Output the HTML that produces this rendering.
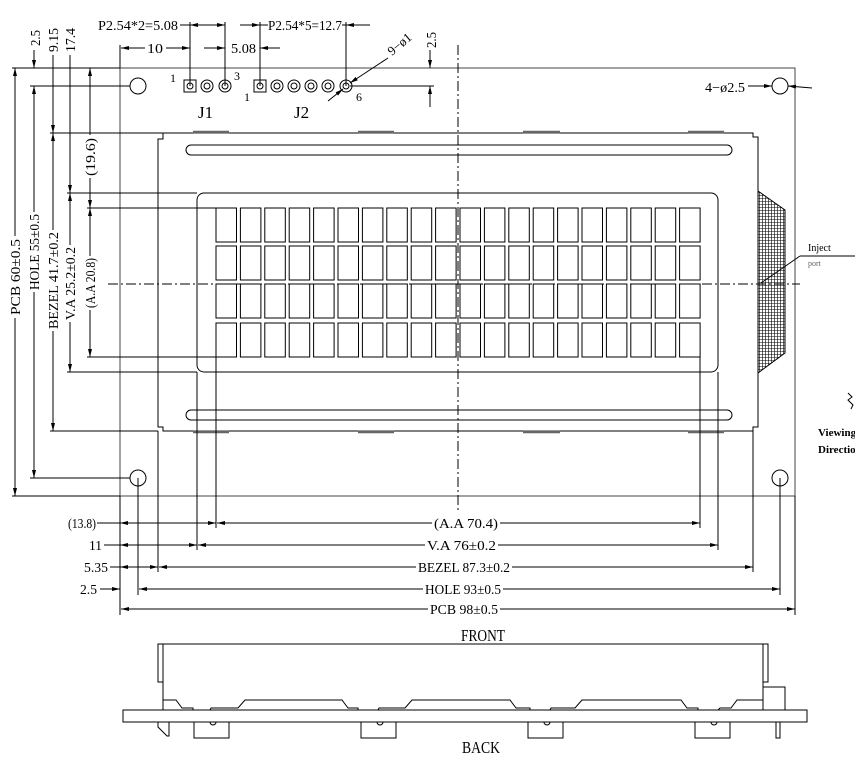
<!DOCTYPE html>
<html><head><meta charset="utf-8"><style>
html,body{margin:0;padding:0;background:#fff;}
svg{display:block;}
text{font-family:"Liberation Serif",serif;fill:#000;}
</style></head><body>
<svg width="855" height="773" viewBox="0 0 855 773" xmlns="http://www.w3.org/2000/svg">
<defs>
<marker id="a" markerWidth="8" markerHeight="4" refX="8" refY="2" orient="auto" markerUnits="userSpaceOnUse"><path d="M0,0 L8,2 L0,4 Z" fill="#000"/></marker>
<marker id="s" markerWidth="8" markerHeight="4" refX="0" refY="2" orient="auto" markerUnits="userSpaceOnUse"><path d="M8,0 L0,2 L8,4 Z" fill="#000"/></marker>
<pattern id="h" width="3" height="3" patternUnits="userSpaceOnUse"><path d="M0,0.5 H3 M0.5,0 V3" stroke="#000" stroke-width="0.6"/></pattern>
</defs>
<g fill="none" stroke="#000" stroke-width="1">
<rect x="120" y="68" width="675" height="428" stroke="#444"/>
<circle cx="138" cy="86" r="8"/><circle cx="780" cy="86" r="8"/>
<circle cx="138" cy="478" r="8"/><circle cx="780" cy="478" r="8"/>
<path d="M163,133 L753,133 L753,137 L758,137 L758,427 L753,427 L753,431 L163,431 L163,427 L158,427 L158,139 L163,139 Z"/>
<g stroke="#666" stroke-width="2.5">
<line x1="193" y1="132" x2="229" y2="132"/><line x1="358" y1="132" x2="394" y2="132"/><line x1="523" y1="132" x2="560" y2="132"/><line x1="688" y1="132" x2="724" y2="132"/>
<line x1="193" y1="432" x2="229" y2="432"/><line x1="358" y1="432" x2="394" y2="432"/><line x1="523" y1="432" x2="560" y2="432"/><line x1="688" y1="432" x2="724" y2="432"/>
</g>
<rect x="186" y="145" width="546" height="10" rx="5"/>
<rect x="186" y="410" width="546" height="10" rx="5"/>
<rect x="197" y="193" width="521" height="179" rx="7"/>
<polygon points="758,191 785,210 785,353 758,373" fill="url(#h)"/>
<line x1="458" y1="45" x2="458" y2="512" stroke-dasharray="10,3,2,3"/>
<line x1="108" y1="284" x2="800" y2="284" stroke-dasharray="10,3,2,3"/>
</g>
<g fill="#fff" stroke="#000" stroke-width="1" id="cells"></g>
<g fill="none" stroke="#000" stroke-width="1">
<line x1="12" y1="68" x2="120" y2="68"/>
<line x1="30" y1="86" x2="130" y2="86"/>
<line x1="50" y1="133" x2="163" y2="133"/>
<line x1="67" y1="193" x2="197" y2="193"/>
<line x1="87" y1="208" x2="216" y2="208"/>
<line x1="87" y1="357" x2="216" y2="357"/>
<line x1="67" y1="372" x2="197" y2="372"/>
<line x1="50" y1="431" x2="158" y2="431"/>
<line x1="30" y1="478" x2="130" y2="478"/>
<line x1="12" y1="496" x2="120" y2="496"/>
<line x1="15" y1="236" x2="15" y2="68" marker-end="url(#a)"/><line x1="15" y1="318" x2="15" y2="496" marker-end="url(#a)"/>
<line x1="34" y1="212" x2="34" y2="86" marker-end="url(#a)"/><line x1="34" y1="292" x2="34" y2="478" marker-end="url(#a)"/>
<line x1="53" y1="230" x2="53" y2="133" marker-end="url(#a)"/><line x1="53" y1="331" x2="53" y2="431" marker-end="url(#a)"/>
<line x1="70" y1="245" x2="70" y2="193" marker-end="url(#a)"/><line x1="70" y1="322" x2="70" y2="372" marker-end="url(#a)"/>
<line x1="90" y1="256" x2="90" y2="208" marker-end="url(#a)"/><line x1="90" y1="310" x2="90" y2="357" marker-end="url(#a)"/>
<line x1="34" y1="50" x2="34" y2="68" marker-end="url(#a)"/>
<line x1="53" y1="55" x2="53" y2="133" marker-end="url(#a)"/>
<line x1="70" y1="55" x2="70" y2="193" marker-end="url(#a)"/>
<line x1="90" y1="135" x2="90" y2="68" marker-end="url(#a)"/><line x1="90" y1="178" x2="90" y2="208" marker-end="url(#a)"/>
<line x1="120" y1="496" x2="120" y2="615"/>
<line x1="138" y1="478" x2="138" y2="595"/>
<line x1="158" y1="431" x2="158" y2="572"/>
<line x1="197" y1="372" x2="197" y2="550"/>
<line x1="216" y1="357" x2="216" y2="528"/>
<line x1="700" y1="357" x2="700" y2="528"/>
<line x1="718" y1="372" x2="718" y2="550"/>
<line x1="753" y1="431" x2="753" y2="572"/>
<line x1="780" y1="478" x2="780" y2="595"/>
<line x1="795" y1="496" x2="795" y2="615"/>
<line x1="97" y1="523" x2="120" y2="523"/><line x1="140" y1="523" x2="120" y2="523" marker-end="url(#a)"/><line x1="140" y1="523" x2="216" y2="523" marker-end="url(#a)"/>
<line x1="217" y1="523" x2="432" y2="523" marker-start="url(#s)"/><line x1="500" y1="523" x2="700" y2="523" marker-end="url(#a)"/>
<line x1="104" y1="545" x2="120" y2="545"/><line x1="150" y1="545" x2="120" y2="545" marker-end="url(#a)"/><line x1="150" y1="545" x2="197" y2="545" marker-end="url(#a)"/>
<line x1="198" y1="545" x2="425" y2="545" marker-start="url(#s)"/><line x1="498" y1="545" x2="718" y2="545" marker-end="url(#a)"/>
<line x1="110" y1="567" x2="120" y2="567"/><line x1="140" y1="567" x2="120" y2="567" marker-end="url(#a)"/><line x1="140" y1="567" x2="158" y2="567" marker-end="url(#a)"/>
<line x1="159" y1="567" x2="416" y2="567" marker-start="url(#s)"/><line x1="512" y1="567" x2="753" y2="567" marker-end="url(#a)"/>
<line x1="100" y1="589" x2="120" y2="589" marker-end="url(#a)"/>
<line x1="139" y1="589" x2="160" y2="589" marker-start="url(#s)"/><line x1="160" y1="589" x2="423" y2="589"/><line x1="503" y1="589" x2="780" y2="589" marker-end="url(#a)"/>
<line x1="121" y1="609" x2="428" y2="609" marker-start="url(#s)"/><line x1="500" y1="609" x2="795" y2="609" marker-end="url(#a)"/>
<line x1="120" y1="45" x2="120" y2="68"/>
<line x1="190" y1="22" x2="190" y2="86"/><line x1="225" y1="22" x2="225" y2="86"/>
<line x1="260" y1="22" x2="260" y2="86"/><line x1="346" y1="22" x2="346" y2="86"/>
<line x1="180" y1="25" x2="190" y2="25"/><line x1="207" y1="25" x2="190" y2="25" marker-end="url(#a)"/><line x1="207" y1="25" x2="225" y2="25" marker-end="url(#a)"/>
<line x1="240" y1="25" x2="260" y2="25" marker-end="url(#a)"/><line x1="260" y1="25" x2="268" y2="25"/>
<line x1="342" y1="25" x2="346" y2="25"/><line x1="370" y1="25" x2="346" y2="25" marker-end="url(#a)"/>
<line x1="145" y1="48" x2="121" y2="48" marker-end="url(#a)"/><line x1="166" y1="48" x2="190" y2="48" marker-end="url(#a)"/>
<line x1="204" y1="48" x2="225" y2="48" marker-end="url(#a)"/><line x1="280" y1="48" x2="260" y2="48" marker-end="url(#a)"/>
<line x1="350" y1="86" x2="434" y2="86"/>
<line x1="430" y1="50" x2="430" y2="68" marker-end="url(#a)"/><line x1="430" y1="107" x2="430" y2="86" marker-end="url(#a)"/>
<line x1="328" y1="101" x2="343" y2="89" marker-end="url(#a)"/><line x1="388" y1="58" x2="350" y2="83" marker-end="url(#a)"/>
<rect x="184" y="80" width="12" height="12"/><circle cx="190" cy="86" r="3"/>
<circle cx="207" cy="86" r="6"/><circle cx="207" cy="86" r="3"/>
<circle cx="225" cy="86" r="6"/><circle cx="225" cy="86" r="3"/>
<rect x="254" y="80" width="12" height="12"/><circle cx="260" cy="86" r="3"/>
<circle cx="277" cy="86" r="6"/><circle cx="277" cy="86" r="3"/>
<circle cx="294" cy="86" r="6"/><circle cx="294" cy="86" r="3"/>
<circle cx="311" cy="86" r="6"/><circle cx="311" cy="86" r="3"/>
<circle cx="328" cy="86" r="6"/><circle cx="328" cy="86" r="3"/>
<circle cx="346" cy="86" r="6"/><circle cx="346" cy="86" r="3"/>
<line x1="748" y1="86" x2="772" y2="86" marker-end="url(#a)"/>
<line x1="812" y1="88" x2="788" y2="86" marker-end="url(#a)"/>
<line x1="800" y1="256" x2="855" y2="256"/>
<line x1="800" y1="256" x2="761" y2="283"/>
<path d="M848,393 l4,4 l-4,3 l5,5 l-2,4"/>
<rect x="123" y="710" width="684" height="12"/>
<line x1="158" y1="644" x2="767" y2="644"/>
<rect x="158" y="644" width="5" height="38"/>
<rect x="763" y="644" width="5" height="38"/>
<line x1="163" y1="644" x2="163" y2="710"/>
<line x1="763" y1="682" x2="763" y2="700"/>
<path d="M163,700 L176,700 L182,708 L193,708 L193,710 M210,710 L211,708 L238,708 L245,700 L342,700 L348,708 L358,708 L358,710 M378,710 L379,708 L405,708 L412,700 L510,700 L516,708 L530,708 L530,710 M550,710 L551,708 L575,708 L582,700 L681,700 L687,708 L698,708 L698,710 M718,710 L720,708 L731,708 L737,700 L763,700"/>
<rect x="763" y="687" width="22" height="23"/>
<rect x="776" y="722" width="4" height="16"/>
<path d="M158,722 L158,727 L167,736 L169,736 L169,722"/>
<path d="M194,722 L194,738 L229,738 L229,722 M361,722 L361,738 L396,738 L396,722 M528,722 L528,738 L563,738 L563,722 M695,722 L695,738 L730,738 L730,722"/>
<path d="M210,722 a3,3 0 0 0 6,0 M377,722 a3,3 0 0 0 6,0 M544,722 a3,3 0 0 0 6,0 M711,722 a3,3 0 0 0 6,0"/>
</g>
<g font-size="14">
<text x="98" y="30" textLength="80" lengthAdjust="spacingAndGlyphs">P2.54*2=5.08</text>
<text x="268" y="30" textLength="74" lengthAdjust="spacingAndGlyphs">P2.54*5=12.7</text>
<text x="147" y="53" textLength="16" lengthAdjust="spacingAndGlyphs">10</text>
<text x="231" y="53" textLength="25" lengthAdjust="spacingAndGlyphs">5.08</text>
<text x="170" y="82" font-size="12">1</text>
<text x="234" y="80" font-size="12">3</text>
<text x="244" y="101" font-size="12">1</text>
<text x="356" y="101" font-size="12">6</text>
<text x="198" y="118" font-size="17">J1</text>
<text x="294" y="118" font-size="17">J2</text>
<text transform="translate(392,56) rotate(-40)" font-size="13">9−ø1</text>
<text transform="translate(436,48) rotate(-90)" textLength="16" lengthAdjust="spacingAndGlyphs">2.5</text>
<text transform="translate(40,46) rotate(-90)" textLength="16" lengthAdjust="spacingAndGlyphs">2.5</text>
<text transform="translate(58,52) rotate(-90)" textLength="24" lengthAdjust="spacingAndGlyphs">9.15</text>
<text transform="translate(75,52) rotate(-90)" textLength="24" lengthAdjust="spacingAndGlyphs">17.4</text>
<text transform="translate(95,176) rotate(-90)" textLength="38" lengthAdjust="spacingAndGlyphs">(19.6)</text>
<text transform="translate(20,315) rotate(-90)" textLength="76" lengthAdjust="spacingAndGlyphs">PCB 60±0.5</text>
<text transform="translate(39,290) rotate(-90)" textLength="76" lengthAdjust="spacingAndGlyphs">HOLE 55±0.5</text>
<text transform="translate(58,329) rotate(-90)" textLength="97" lengthAdjust="spacingAndGlyphs">BEZEL 41.7±0.2</text>
<text transform="translate(75,320) rotate(-90)" textLength="73" lengthAdjust="spacingAndGlyphs">V.A 25.2±0.2</text>
<text transform="translate(95,308) rotate(-90)" textLength="50" lengthAdjust="spacingAndGlyphs">(A.A 20.8)</text>
<text x="68" y="528" textLength="28" lengthAdjust="spacingAndGlyphs">(13.8)</text>
<text x="89" y="550" textLength="13" lengthAdjust="spacingAndGlyphs">11</text>
<text x="84" y="572" textLength="24" lengthAdjust="spacingAndGlyphs">5.35</text>
<text x="80" y="594" textLength="17" lengthAdjust="spacingAndGlyphs">2.5</text>
<text x="434" y="528" textLength="64" lengthAdjust="spacingAndGlyphs">(A.A 70.4)</text>
<text x="427" y="550" textLength="69" lengthAdjust="spacingAndGlyphs">V.A 76±0.2</text>
<text x="418" y="572" textLength="92" lengthAdjust="spacingAndGlyphs">BEZEL 87.3±0.2</text>
<text x="425" y="594" textLength="76" lengthAdjust="spacingAndGlyphs">HOLE 93±0.5</text>
<text x="430" y="614" textLength="68" lengthAdjust="spacingAndGlyphs">PCB 98±0.5</text>
<text x="705" y="92" textLength="40" lengthAdjust="spacingAndGlyphs">4−ø2.5</text>
<text x="461" y="641" font-size="17" textLength="44" lengthAdjust="spacingAndGlyphs">FRONT</text>
<text x="462" y="753" font-size="17" textLength="38" lengthAdjust="spacingAndGlyphs">BACK</text>
</g>
<text x="808" y="251" font-family="Liberation Mono" font-size="10">Inject</text>
<text x="808" y="266" font-family="Liberation Mono" font-size="8" style="fill:#666">port</text>
<text x="818" y="436" font-family="Liberation Mono" font-size="11" font-weight="bold">Viewing</text>
<text x="818" y="453" font-family="Liberation Mono" font-size="11" font-weight="bold">Direction</text>
</svg>
<script>
var g=document.getElementById('cells'),ns='http://www.w3.org/2000/svg',rows=[208,246,284,323];
for(var r=0;r<4;r++)for(var c=0;c<20;c++){var e=document.createElementNS(ns,'rect');e.setAttribute('x',(216+c*24.4).toFixed(1));e.setAttribute('y',rows[r]);e.setAttribute('width',20.5);e.setAttribute('height',34);g.appendChild(e);}
</script>
</body></html>
